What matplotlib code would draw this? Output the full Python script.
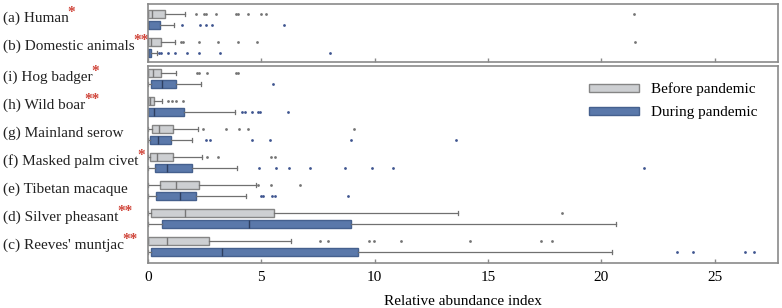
import matplotlib.pyplot as plt
import matplotlib.transforms as mtransforms
from matplotlib.patches import Patch

plt.rcParams['font.family'] = ['Liberation Serif', 'DejaVu Serif']

# species shown top to bottom; panel 0 = upper box, panel 1 = lower box
species = ["(a) Human", "(b) Domestic animals", "(i) Hog badger", "(h) Wild boar",
           "(g) Mainland serow", "(f) Masked palm civet", "(e) Tibetan macaque",
           "(d) Silver pheasant", "(c) Reeves' muntjac"]
stars = ["*", "**", "*", "**", "", "*", "", "**", "**"]
panel = [0, 0, 1, 1, 1, 1, 1, 1, 1]

# [whislo, q1, median, q3, whishi]
before_stats = [
    [0, 0, 0.16, 0.73, 1.63],
    [0, 0, 0.13, 0.59, 1.19],
    [0, 0, 0.21, 0.59, 1.22],
    [0, 0, 0.10, 0.28, 0.63],
    [0, 0.19, 0.49, 1.09, 2.19],
    [0, 0.10, 0.40, 1.09, 2.38],
    [0, 0.52, 1.22, 2.24, 4.75],
    [0, 0.13, 1.65, 5.55, 13.67],
    [0, 0, 0.82, 2.68, 6.31],
]
during_stats = [
    [0, 0, 0, 0.53, 1.15],
    [0, 0, 0, 0.13, 0.38],
    [0, 0.13, 0.63, 1.22, 2.34],
    [0, 0, 0.26, 1.57, 3.86],
    [0, 0.10, 0.44, 1.00, 1.96],
    [0, 0.31, 0.85, 1.93, 3.93],
    [0, 0.37, 1.41, 2.10, 4.33],
    [0, 0.63, 4.47, 8.96, 20.65],
    [0, 0.12, 3.27, 9.26, 20.46],
]
before_fliers = [
    [2.12, 2.47, 2.56, 3.0, 3.89, 3.97, 4.41, 5.0, 5.2, 21.44],
    [1.46, 1.55, 2.27, 3.1, 3.97, 4.81, 21.51],
    [2.15, 2.24, 2.59, 3.89, 3.97],
    [0.87, 1.05, 1.25, 1.53],
    [2.41, 3.44, 4.0, 4.4, 9.1],
    [2.59, 3.08, 5.41, 5.59],
    [4.87, 5.43, 6.71],
    [18.26],
    [7.59, 7.93, 9.73, 9.98, 11.17, 14.22, 17.35, 17.81],
]
during_fliers = [
    [1.49, 2.3, 2.55, 2.84, 5.98],
    [0.5, 0.59, 0.87, 1.19, 1.72, 2.25, 3.19, 8.04],
    [5.53],
    [4.16, 4.27, 4.61, 4.87, 4.93, 6.19],
    [2.55, 2.75, 4.61, 5.37, 8.96, 13.57],
    [4.9, 5.66, 6.24, 7.14, 8.71, 9.9, 10.83, 21.87],
    [4.97, 5.09, 5.46, 5.62, 8.83],
    [],
    [23.34, 24.03, 26.33, 26.74],
]
xticks = [0, 5, 10, 15, 20, 25]

before_face, before_edge = "#cdcfd2", "#858585"
during_face, during_edge = "#5a78aa", "#45608e"
star_red = "#d0453a"
spine_col = "#8a8a8a"

W, H = 782, 308
fig = plt.figure(figsize=(W / 100, H / 100), dpi=100)
left, right = 148 / W, 778 / W
ax_top = fig.add_axes([left, 1 - 62 / H, right - left, 58 / H])
ax_bot = fig.add_axes([left, 1 - 263 / H, right - left, 197 / H])
axes = [ax_top, ax_bot]

off = 0.196
bw = 0.30


def make_stats(s, fl):
    return dict(whislo=s[0], q1=s[1], med=s[2], q3=s[3], whishi=s[4], fliers=fl)


for p, ax in enumerate(axes):
    idx = [i for i in range(len(species)) if panel[i] == p]
    pos = list(range(len(idx)))
    for stats, fliers, face, edge, medc, flc, sgn in [
        (before_stats, before_fliers, before_face, before_edge, "#777777", "#747474", -1),
        (during_stats, during_fliers, during_face, during_edge, "#2e3f60", "#3f5590", 1),
    ]:
        bs = [make_stats(stats[i], fliers[i]) for i in idx]
        ax.bxp(bs, positions=[k + sgn * off for k in pos], widths=bw, vert=False,
               patch_artist=True, capwidths=0.14,
               boxprops=dict(facecolor=face, edgecolor=edge, linewidth=1.0),
               medianprops=dict(color=medc, linewidth=1.0),
               whiskerprops=dict(color="#707070", linewidth=0.9),
               capprops=dict(color="#707070", linewidth=0.9),
               flierprops=dict(marker='o', markersize=2.0, markerfacecolor=flc,
                               markeredgecolor='none'),
               manage_ticks=False)

    if p == 0:
        ax.set_ylim(1.518, -0.554)
    else:
        ax.set_ylim(6.589, -0.446)
    ax.set_xlim(0, 27.8)
    ax.set_yticks([])
    ax.set_xticks(xticks)
    ax.tick_params(axis='x', direction='in', length=3, width=1, color=spine_col,
                   labelsize=11, pad=6)
    for sp in ax.spines.values():
        sp.set_color(spine_col)
        sp.set_linewidth(1.2)

    trans = mtransforms.blended_transform_factory(fig.transFigure, ax.transData)
    for k, i in enumerate(idx):
        t = ax.text(3 / W, k - 0.05, species[i], transform=trans, ha='left',
                    va='center', fontsize=11, color="#222222")
        if stars[i]:
            ax.annotate(stars[i], xy=(1, 1), xycoords=t, xytext=(-1, -1),
                        textcoords='offset points', ha='left', va='center',
                        fontsize=11, color=star_red, fontweight='bold')

ax_top.tick_params(axis='x', labelbottom=False)
ax_bot.set_xlabel("Relative abundance index", fontsize=11, labelpad=8)

handles = [Patch(facecolor=before_face, edgecolor=before_edge, label="Before pandemic"),
           Patch(facecolor=during_face, edgecolor=during_edge, label="During pandemic")]
ax_bot.legend(handles=handles, loc='upper right', bbox_to_anchor=(0.99, 0.985),
              frameon=False, fontsize=11, handlelength=3.3, handleheight=0.45,
              handletextpad=0.8, labelspacing=0.65)

fig.savefig("out.png", dpi=100)
